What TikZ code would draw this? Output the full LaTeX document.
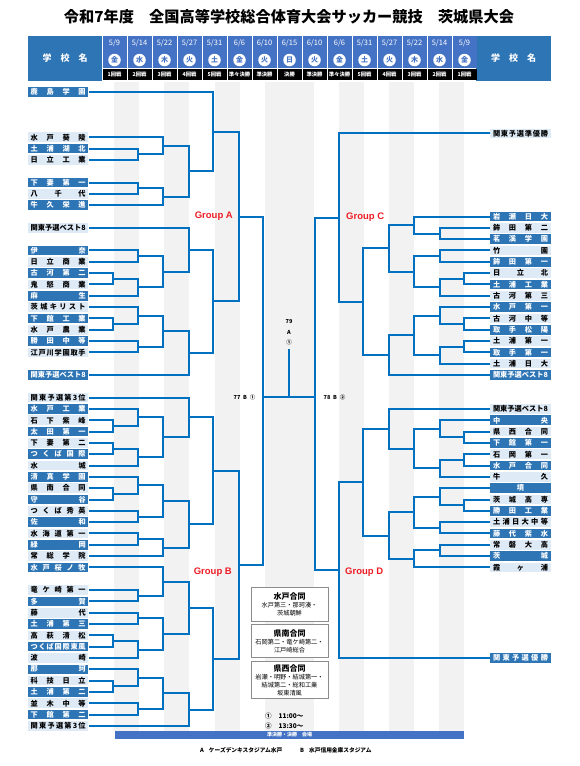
\documentclass[tikz,border=0pt]{standalone}
\usepackage{fontspec}
\setmainfont{Noto Sans CJK JP}
\newfontfamily\lat{Liberation Sans}
\usepackage{xcolor}
\usetikzlibrary{calc}

\definecolor{hdrblue}{HTML}{2E75B6}
\definecolor{dateblue}{HTML}{4472C4}
\definecolor{lineblue}{HTML}{0070C0}
\definecolor{teamdk}{HTML}{2E75B6}
\definecolor{teamlt}{HTML}{DEEAF6}
\colorlet{txtdk}{white}
\colorlet{txtlt}{black}
\definecolor{stripe}{HTML}{F2F2F2}
\definecolor{grpred}{HTML}{EE1C25}

% spread the characters of a school name over the box
\def\sprd#1{\hbox to 55pt{\hfil\sprdA#1\sprdZ\hfil}}
\def\sprdA#1#2{#1\ifx#2\sprdZ\else\hfill\expandafter\sprdA\expandafter#2\fi}
\def\sprdZ{}

% one match: winner #1 sits in column x=#4, between #2 and #3
\newcommand\game[4]{%
  \path let \p1=($(#2)!0.5!(#3)$) in (#4pt,\y1) coordinate (#1);
  \draw[bracket] (#2) -| (#1) |- (#3);
}

\begin{document}
\begin{tikzpicture}[x=1pt, y=-1pt,
  title/.style={inner sep=0pt, font=\bfseries\fontsize{15.2}{17}\selectfont},
  hdr/.style={fill=hdrblue, text=white, minimum width=74.5pt, minimum height=45pt,
    inner sep=0pt, font=\bfseries\fontsize{9}{10}\selectfont},
  datecell/.style={fill=dateblue, minimum width=24pt, minimum height=31.8pt, inner sep=0pt},
  datetext/.style={text=white, inner sep=0pt, font=\fontsize{7.5}{8}\selectfont},
  wday/.style={circle, fill=white, text=dateblue, minimum size=12.5pt, inner sep=0pt,
    font=\bfseries\fontsize{7}{8}\selectfont},
  rdcell/.style={fill=black, text=white, minimum width=24pt, minimum height=11pt,
    inner sep=0pt, font=\bfseries\fontsize{5.3}{6}\selectfont},
  team/.style={rectangle, fill=team#1, text=txt#1, minimum width=60.5pt,
    minimum height=9.6pt, inner sep=0pt, font=\bfseries\fontsize{7.2}{8}\selectfont},
  bracket/.style={draw=lineblue, line width=2pt},
  grp/.style={text=grpred, inner sep=0pt, font=\lat\bfseries\fontsize{9.5}{11}\selectfont},
  tag/.style={inner sep=0pt, font=\bfseries\fontsize{5.5}{6}\selectfont},
  infobox/.style={draw=black!45, fill=white, line width=0.8pt, minimum width=77pt,
    text width=75pt, align=center, inner sep=0pt, font=\fontsize{6.2}{8}\selectfont},
  venuebar/.style={fill=dateblue, text=white, minimum width=349pt, minimum height=7.5pt,
    inner sep=0pt, font=\bfseries\fontsize{5}{6}\selectfont},
  note/.style={inner sep=0pt, anchor=west, font=\bfseries\fontsize{5.7}{6}\selectfont}
]
\useasboundingbox (0,0) rectangle (579,766);

% title
\node[title] (ttl) at (289,17) {令和7年度　全国高等学校総合体育大会サッカー競技　茨城県大会};

% header
\node[hdr] (hdrL) at (65.2,58.5) {学\hspace{9pt}校\hspace{9pt}名};
\node[hdr] (hdrR) at (513.7,58.5) {学\hspace{9pt}校\hspace{9pt}名};
\foreach \m/\dd/\w/\rd [count=\i from 0] in {5/9/金/1回戦,5/14/水/2回戦,5/22/木/3回戦,
    5/27/火/4回戦,5/31/土/5回戦,6/6/金/準々決勝,6/10/火/準決勝,6/15/日/決勝,
    6/10/火/準決勝,6/6/金/準々決勝,5/31/土/5回戦,5/27/火/4回戦,5/22/木/3回戦,
    5/14/水/2回戦,5/9/金/1回戦}{
  \node[datecell] (dc\i) at ({114.5+25*\i},51.9) {};
  \node[datetext] (dt\i) at ({114.5+25*\i},43.6) {\m/\dd};
  \node[wday] (wd\i) at ({114.5+25*\i},60) {\w};
  \node[rdcell] (rd\i) at ({114.5+25*\i},74.6) {\rd};
}

% round columns
\foreach \a/\b in {114/139,164/189,215/240,265/314,339/364,389/414,439/464}
  \fill[stripe] (\a,81.5) rectangle (\b,731);

% schools, left
\foreach \rw/\nm/\sty in {0/鹿島学園/dk, 4/水戸葵陵/lt, 5/土浦湖北/dk, 6/日立工業/lt,
    8/下妻第一/dk, 9/八千代/lt, 10/牛久栄進/dk, 12/関東予選ベスト8/lt,
    14/伊奈/dk, 15/日立商業/lt, 16/古河第二/dk, 17/鬼怒商業/lt,
    18/麻生/dk, 19/茨城キリスト/lt, 20/下館工業/dk, 21/水戸農業/lt,
    22/勝田中等/dk, 23/江戸川学園取手/lt, 25/関東予選ベスト8/dk,
    27/関東予選第3位/lt, 28/水戸工業/dk, 29/石下紫峰/lt, 30/太田第一/dk,
    31/下妻第二/lt, 32/つくば国際/dk, 33/水城/lt, 34/清真学園/dk,
    35/県南合同/lt, 36/守谷/dk, 37/つくば秀英/lt, 38/佐和/dk,
    39/水海道第一/lt, 40/緑岡/dk, 41/常総学院/lt, 42/水戸桜ノ牧/dk,
    44/竜ケ崎第一/lt, 45/多賀/dk, 46/藤代/lt, 47/土浦第三/dk,
    48/高萩清松/lt, 49/つくば国際東風/dk, 50/波崎/lt, 51/那珂/dk,
    52/科技日立/lt, 53/土浦第二/dk, 54/並木中等/lt, 55/下館第二/dk,
    56/関東予選第3位/lt}
  \node[team=\sty] (L\rw) at (58.2,{92+11.32*\rw}) {\expandafter\sprd\expandafter{\nm}};

% schools, right
\node[team=lt] (R3) at (520.5,133.3) {\sprd{関東予選準優勝}};
\foreach \rw/\nm/\sty in {11/岩瀬日大/dk, 12/鉾田第二/lt, 13/茗溪学園/dk, 14/竹園/lt,
    15/鉾田第一/dk, 16/日立北/lt, 17/土浦工業/dk, 18/古河第三/lt,
    19/水戸第一/dk, 20/古河中等/lt, 21/取手松陽/dk, 22/土浦第一/lt,
    23/取手第一/dk, 24/土浦日大/lt, 25/関東予選ベスト8/dk,
    28/関東予選ベスト8/lt, 29/中央/dk, 30/県西合同/lt, 31/下館第一/dk,
    32/石岡第一/lt, 33/水戸合同/dk, 34/牛久/lt, 35/境/dk,
    36/茨城高専/lt, 37/勝田工業/dk, 38/土浦日大中等/lt, 39/藤代紫水/dk,
    40/常磐大高/lt, 41/茨城/dk, 42/霞ヶ浦/lt, 50/関東予選優勝/dk}
  \node[team=\sty] (R\rw) at (520.5,{92+11.32*\rw}) {\expandafter\sprd\expandafter{\nm}};

% Group A
\game{a1}{L5}{L6}{138}
\game{a2}{L4}{a1}{163}
\game{a3}{L8}{L9}{138}
\game{a4}{a3}{L10}{163}
\game{a5}{a2}{a4}{189}
\game{a6}{L0}{a5}{213}
\game{a7}{L16}{L17}{113}
\game{a8}{L14}{L15}{138}
\game{a9}{a7}{L18}{138}
\game{a10}{a8}{a9}{163}
\game{a11}{L12}{a10}{189}
\game{a12}{L20}{L21}{113}
\game{a13}{L19}{a12}{138}
\game{a14}{L22}{L23}{138}
\game{a15}{a13}{a14}{163}
\game{a16}{a15}{L25}{189}
\game{a17}{a11}{a16}{213}
\game{gA}{a6}{a17}{239}

% Group B
\game{b1}{L29}{L30}{113}
\game{b2}{L28}{b1}{138}
\game{b3}{L31}{L32}{113}
\game{b4}{b3}{L33}{138}
\game{b5}{b2}{b4}{163}
\game{b6}{L27}{b5}{189}
\game{b7}{L35}{L36}{113}
\game{b8}{L34}{b7}{138}
\game{b9}{L37}{L38}{138}
\game{b10}{b8}{b9}{163}
\game{b11}{L39}{L40}{138}
\game{b12}{b11}{L41}{163}
\game{b13}{b10}{b12}{189}
\game{b14}{b6}{b13}{213}
\game{b15}{L44}{L45}{138}
\game{b16}{L42}{b15}{163}
\game{b17}{L46}{L47}{138}
\game{b18}{L48}{L49}{113}
\game{b19}{b18}{L50}{138}
\game{b20}{b17}{b19}{163}
\game{b21}{b16}{b20}{189}
\game{b22}{L52}{L53}{113}
\game{b23}{L51}{b22}{138}
\game{b24}{L54}{L55}{138}
\game{b25}{b23}{b24}{163}
\game{b26}{b25}{L56}{189}
\game{b27}{b21}{b26}{213}
\game{gB}{b14}{b27}{239}

% Group C
\game{c1}{R12}{R13}{440}
\game{c2}{R11}{c1}{414}
\game{c3}{R14}{R15}{440}
\game{c4}{R16}{R17}{464}
\game{c5}{c4}{R18}{440}
\game{c6}{c3}{c5}{414}
\game{c7}{c2}{c6}{389}
\game{c8}{R20}{R21}{464}
\game{c9}{R19}{c8}{440}
\game{c10}{R22}{R23}{464}
\game{c11}{c10}{R24}{440}
\game{c12}{c9}{c11}{414}
\game{c13}{c12}{R25}{389}
\game{c14}{c7}{c13}{363}
\game{gC}{R3}{c14}{339}

% Group D
\game{e1}{R30}{R31}{464}
\game{e2}{R29}{e1}{440}
\game{e3}{R32}{R33}{464}
\game{e4}{e3}{R34}{440}
\game{e5}{e2}{e4}{414}
\game{e6}{R28}{e5}{389}
\game{e7}{R36}{R37}{464}
\game{e8}{R35}{e7}{440}
\game{e9}{R38}{R39}{440}
\game{e10}{e8}{e9}{414}
\game{e11}{R40}{R41}{440}
\game{e12}{e11}{R42}{414}
\game{e13}{e10}{e12}{389}
\game{e14}{e6}{e13}{363}
\game{gD}{e14}{R50}{339}

% semifinals and final
\coordinate (sfL) at (263,397);
\coordinate (sfR) at (315,397);
\coordinate (fin) at (289,349);
\draw[bracket] (gA) -| (sfL) |- (gB);
\draw[bracket] (gC) -| (sfR) |- (gD);
\draw[bracket] (sfL) -- (sfR);
\draw[bracket] (fin) -- (fin |- sfL);

\node[grp, anchor=east] (grpA) at (233,216.5) {Group A};
\node[grp, anchor=east] (grpB) at (232,572) {Group B};
\node[grp, anchor=west] (grpC) at (346,217.5) {Group C};
\node[grp, anchor=west] (grpD) at (345,572) {Group D};

\node[tag] (no79) at (289,321.5) {79};
\node[tag] (venA) at (289,332.3) {A};
\node[tag] (kick1) at (289,342.5) {①};
\node[tag] (sfLtag) at (244.5,397.3) {77\enspace B\enspace ①};
\node[tag] (sfRtag) at (334.5,397.3) {78\enspace B\enspace ②};

% joint teams
\node[infobox, minimum height=34pt] (box1) at (289.5,604)
  {{\bfseries\fontsize{8}{10}\selectfont 水戸合同}\\水戸第三・那珂湊・\\茨城朝鮮};
\node[infobox, minimum height=33.5pt] (box2) at (289.5,641)
  {{\bfseries\fontsize{8}{10}\selectfont 県南合同}\\石岡第二・竜ケ崎第二・\\江戸崎総合};
\node[infobox, minimum height=36.5pt] (box3) at (289.5,680)
  {{\bfseries\fontsize{8}{10}\selectfont 県西合同}\\岩瀬・明野・結城第一・\\結城第二・総和工業\\坂東清風};

\node[note, font=\bfseries\fontsize{6.5}{7}\selectfont] (time1) at (265,716) {①\hspace{7pt}11:00～};
\node[note, font=\bfseries\fontsize{6.5}{7}\selectfont] (time2) at (265,725.7) {②\hspace{7pt}13:30～};

% venues
\node[venuebar] (venue) at (289.5,734.8) {準決勝・決勝　会場};
\node[note] (stadA) at (200,750.7) {A\hspace{5pt}ケーズデンキスタジアム水戸};
\node[note] (stadB) at (300,750.7) {B\hspace{5pt}水戸信用金庫スタジアム};
\end{tikzpicture}
\end{document}
